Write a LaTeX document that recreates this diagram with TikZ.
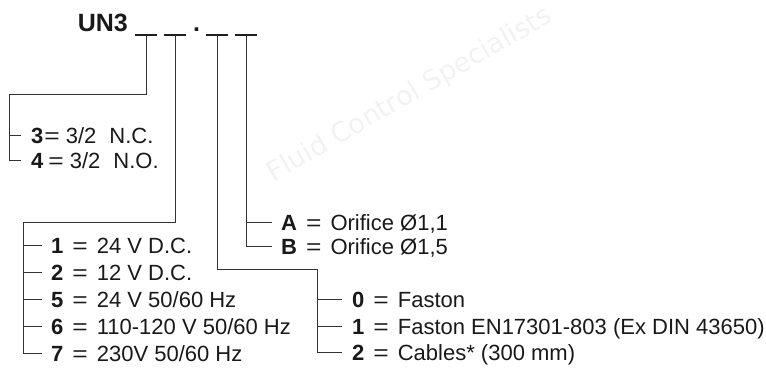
\documentclass[tikz,border=0pt]{standalone}
\usepackage{fontspec}
\setmainfont{Liberation Sans}
\newfontfamily\wmfont{DejaVu Sans}
\newcommand{\myeq}{\hspace{9pt}\scalebox{1.2}[1]{=}\hspace{9pt}}
\begin{document}
\begin{tikzpicture}[x=1pt,y=-1pt,
  conn/.style={draw=black!80, line width=0.9pt, line join=miter},
  blank/.style={draw=black!88, line width=2pt},
  item/.style={anchor=base west, inner sep=0pt, font=\fontsize{22}{26}\selectfont, text=black!90},
  head/.style={inner sep=0pt, font=\fontsize{25}{30}\selectfont\bfseries, text=black!90},
  wmark/.style={inner sep=0pt, font=\wmfont\fontsize{27}{30}\selectfont, text=black!5, rotate=30}
]
\useasboundingbox (0,0) rectangle (766,370);
% watermark
\node[wmark] (wm) at (410,95) {Fluid Control Specialists};
% header
\node[head, anchor=base east] (un3) at (128,31) {UN3};
\node[head, anchor=base] (dot) at (196.5,31) {.};
\foreach \n/\a/\b in {1/135/157, 2/164/186, 3/206/228, 4/235/257} {
  \draw[blank] (\a,34.5) coordinate (bl\n) -- (\b,34.5) coordinate (br\n);
  \coordinate (bm\n) at ({(\a+\b)/2},34.5);
}
% junction and tick coordinates
\coordinate (j1) at (9,94);
\coordinate (j2) at (23,222);
\coordinate (j3) at (317,269);
\coordinate (k3) at (21,135);
\coordinate (k4) at (21,160);
\foreach \n/\y in {a/245, b/272, c/299, d/326, e/353} { \coordinate (v\n) at (42,\y); }
\foreach \n/\y in {a/299, b/326, c/352} { \coordinate (f\n) at (342,\y); }
\coordinate (kA) at (272,222);
\coordinate (kB) at (272,246);
% group 1 : valve function
\draw[conn] (bm1) |- (j1) |- (k4);
\draw[conn] (j1 |- k3) -- (k3);
\node[item] (t3) at (31,143) {\textbf{3}\hspace{1pt}\scalebox{1.2}[1]{=}\hspace{6pt}3/2\hspace{13pt}N.C.};
\node[item] (t4) at (31,168) {\textbf{4}\hspace{5pt}\scalebox{1.2}[1]{=}\hspace{6pt}3/2\hspace{13pt}N.O.};
% group 2 : voltage
\draw[conn] (bm2) |- (j2) |- (ve);
\foreach \n in {a,b,c,d} { \draw[conn] (j2 |- v\n) -- (v\n); }
\node[item] (t1v) at (51,253) {\textbf{1}\myeq 24 V D.C.};
\node[item] (t2v) at (51,280) {\textbf{2}\myeq 12 V D.C.};
\node[item] (t5v) at (51,307) {\textbf{5}\myeq 24 V 50/60 Hz};
\node[item] (t6v) at (51,334) {\textbf{6}\myeq 110-120 V 50/60 Hz};
\node[item] (t7v) at (51,361) {\textbf{7}\myeq 230V 50/60 Hz};
% group 3 : connection
\draw[conn] (bm3) |- (j3) |- (fc);
\foreach \n in {a,b} { \draw[conn] (j3 |- f\n) -- (f\n); }
\node[item] (t0f) at (352,307) {\textbf{0}\myeq Faston};
\node[item] (t1f) at (352,334) {\textbf{1}\myeq Faston EN17301-803 (Ex DIN 43650)};
\node[item] (t2f) at (352,360) {\textbf{2}\myeq Cables* (300 mm)};
% group 4 : orifice
\draw[conn] (bm4) |- (kB);
\draw[conn] (bm4 |- kA) -- (kA);
\node[item] (tA) at (281,230) {\textbf{A}\myeq Orifice Ø1,1};
\node[item] (tB) at (281,254) {\textbf{B}\myeq Orifice Ø1,5};
\end{tikzpicture}
\end{document}
